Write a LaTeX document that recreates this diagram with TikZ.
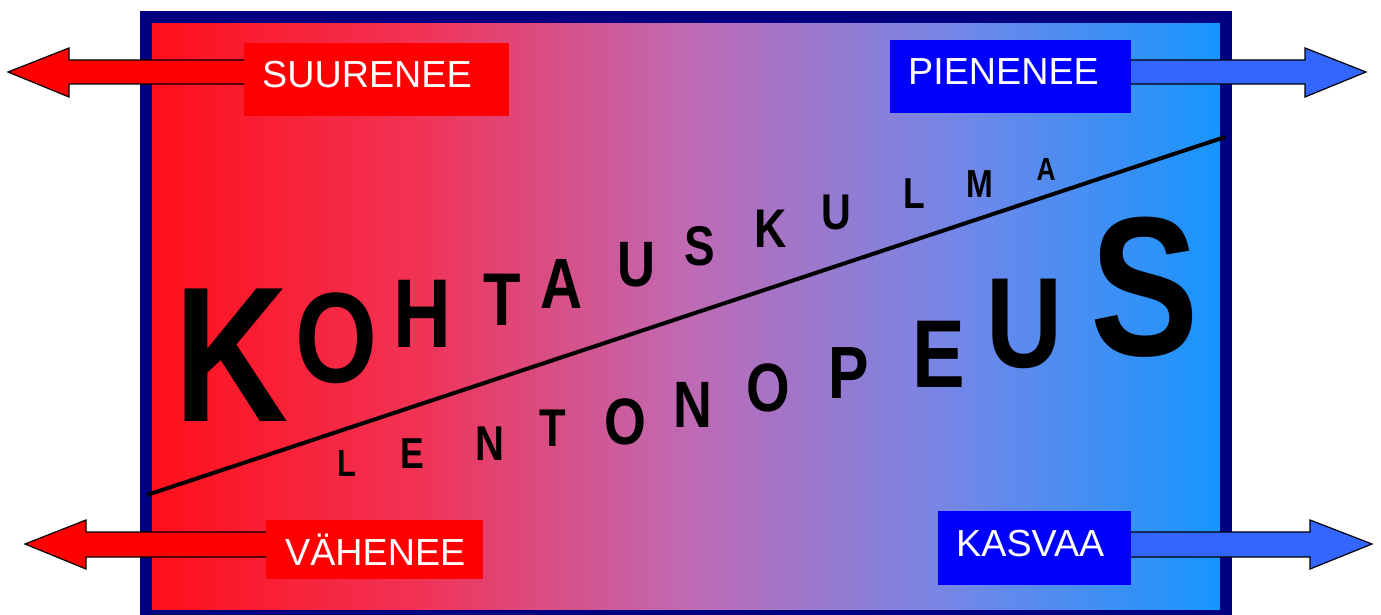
\documentclass[tikz,border=0pt]{standalone}
\usepackage{fontspec}
\setmainfont{Liberation Sans}
\usepackage{graphicx}
\definecolor{navyb}{RGB}{0,0,128}
\definecolor{g0}{RGB}{255,15,25}
\definecolor{g1}{RGB}{242,50,85}
\definecolor{g2}{RGB}{192,106,180}
\definecolor{g3}{RGB}{115,135,232}
\definecolor{g4}{RGB}{20,150,255}
\definecolor{redbox}{RGB}{255,0,0}
\definecolor{bluebox}{RGB}{0,0,255}
\definecolor{bluearrow}{RGB}{51,102,255}
\pgfdeclarehorizontalshading{bgshade}{100bp}{color(0bp)=(g0); color(25bp)=(g0); color(37.5bp)=(g1); color(50bp)=(g2); color(62.5bp)=(g3); color(75bp)=(g4); color(100bp)=(g4)}
\begin{document}
\begin{tikzpicture}[x=1pt,y=-1pt,
  letter/.style={anchor=base,inner sep=0pt,text=black},
  labelbox/.style={anchor=north west,inner sep=0pt,draw=none},
  labeltext/.style={anchor=base west,inner sep=0pt,text=white,font=\fontsize{37.7pt}{37.7pt}\selectfont},
  blockarrow/.style={draw=black,line width=1.2pt,line join=miter}]
\useasboundingbox (0,0) rectangle (1381,615);
% frame with gradient
\path[shading=bgshade] (146,17) rectangle (1226,616);
\draw[navyb,line width=12pt] (146,17) rectangle (1226,616);
% diagonal line
\coordinate (d1) at (147,495);
\coordinate (d2) at (1225,137);
\draw[line width=4pt] (d1) -- (d2);
% letters
\foreach \n/\x/\y/\s/\c in {
  u1/232/421/192.7/K, u2/336/382/128.5/O, u3/422/347/97.8/H, u4/502.5/325/74.7/T,
  u5/562/308/71.2/A, u6/636.5/286/64.2/U, u7/700/265/55.9/S, u8/771/247/54.5/K,
  u9/836.5/229.5/50.3/U, u10/914/208/43.3/L, u11/979.5/197/39.1/M, u12/1046/180/32.1/A,
  l1/347/476/37.7/L, l2/412/468/43.3/E, l3/490/460/48.9/N, l4/552.5/446/53.1/T,
  l5/625.5/444/65.6/O, l6/693/427/65.6/N, l7/768/411/68.4/O, l8/848.5/398/74/P,
  l9/938.5/387/96.4/E, l10/1025/367/128.5/U, l11/1145/355/198.3/S}
  {\node[letter] (\n) at (\x,\y) {\scalebox{0.82}[1]{\fontsize{\s pt}{\s pt}\selectfont\bfseries \c}};}
% arrows
\draw[blockarrow,fill=redbox] (244,60) -- (69,60) -- (69,48) -- (8,72) -- (69,97) -- (69,84) -- (244,84);
\draw[blockarrow,fill=bluearrow] (1131,60) -- (1305,60) -- (1305,48) -- (1366,72) -- (1305,97) -- (1305,84) -- (1131,84);
\draw[blockarrow,fill=redbox] (266,532) -- (86,532) -- (86,520) -- (25,544) -- (86,569) -- (86,557) -- (266,557);
\draw[blockarrow,fill=bluearrow] (1131,532) -- (1310,532) -- (1310,520) -- (1372,544) -- (1310,569) -- (1310,557) -- (1131,557);
% label boxes
\node[labelbox,fill=redbox,minimum width=265pt,minimum height=73pt] (b1) at (244,43) {};
\node[labelbox,fill=bluebox,minimum width=241pt,minimum height=73pt] (b2) at (890,40) {};
\node[labelbox,fill=redbox,minimum width=217pt,minimum height=59pt] (b3) at (266,520) {};
\node[labelbox,fill=bluebox,minimum width=193pt,minimum height=74pt] (b4) at (938,511) {};
\node[labeltext] (t1) at (262,88) {SUURENEE};
\node[labeltext] (t2) at (908,85) {PIENENEE};
\node[labeltext] (t3) at (285,565) {VÄHENEE};
\node[labeltext] (t4) at (956,556) {KASVAA};
\end{tikzpicture}
\end{document}
